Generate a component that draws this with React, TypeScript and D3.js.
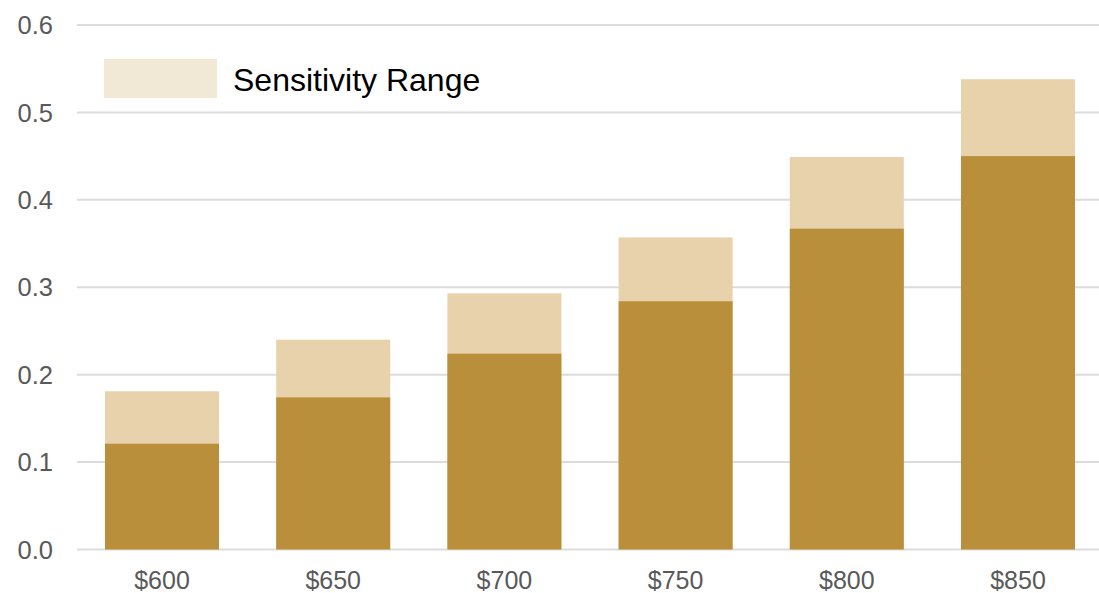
import React from "react";
import * as d3 from "d3";

const categories = ["$600", "$650", "$700", "$750", "$800", "$850"];
const baseValues = [0.121, 0.174, 0.224, 0.284, 0.367, 0.45];
const upperValues = [0.181, 0.24, 0.293, 0.357, 0.449, 0.538];
const yTicks = [0, 0.1, 0.2, 0.3, 0.4, 0.5, 0.6];
const legendLabel = "Sensitivity Range";

const W = 1099;
const H = 593;

export default function App() {
  const x = d3.scaleBand<string>().domain(categories).range([76.4, 1103.6]).paddingInner(0.334).paddingOuter(0.167);
  const y = d3.scaleLinear().domain([0, 0.6]).range([549.5, 25]);
  const font = "Liberation Sans, Arial, sans-serif";
  return (
    <svg width={W} height={H} style={{ position: "absolute", left: 0, top: 0, background: "#fff" }}>
      {yTicks.map((t) => (
        <g key={t}>
          <line x1={77} x2={W} y1={y(t)} y2={y(t)} stroke="#dcdcdc" strokeWidth={2} />
          <text x={53} y={y(t)} dy="0.36em" textAnchor="end" fontFamily={font} fontSize={25.5} fill="#595959">
            {t.toFixed(1)}
          </text>
        </g>
      ))}
      {categories.map((c, i) => (
        <g key={c}>
          <rect x={x(c)} width={x.bandwidth()} y={y(upperValues[i])} height={y(0) - y(upperValues[i])} fill="#E7D2AC" />
          <rect x={x(c)} width={x.bandwidth()} y={y(baseValues[i])} height={y(0) - y(baseValues[i])} fill="#B98F3C" />
          <text x={(x(c) as number) + x.bandwidth() / 2} y={589} textAnchor="middle" fontFamily={font} fontSize={25} fill="#595959">
            {c}
          </text>
        </g>
      ))}
      <rect x={104} y={59} width={113} height={39} fill="#F2E8D6" />
      <text x={233} y={79} dy="0.36em" fontFamily={font} fontSize={32} fill="#000">
        {legendLabel}
      </text>
    </svg>
  );
}
